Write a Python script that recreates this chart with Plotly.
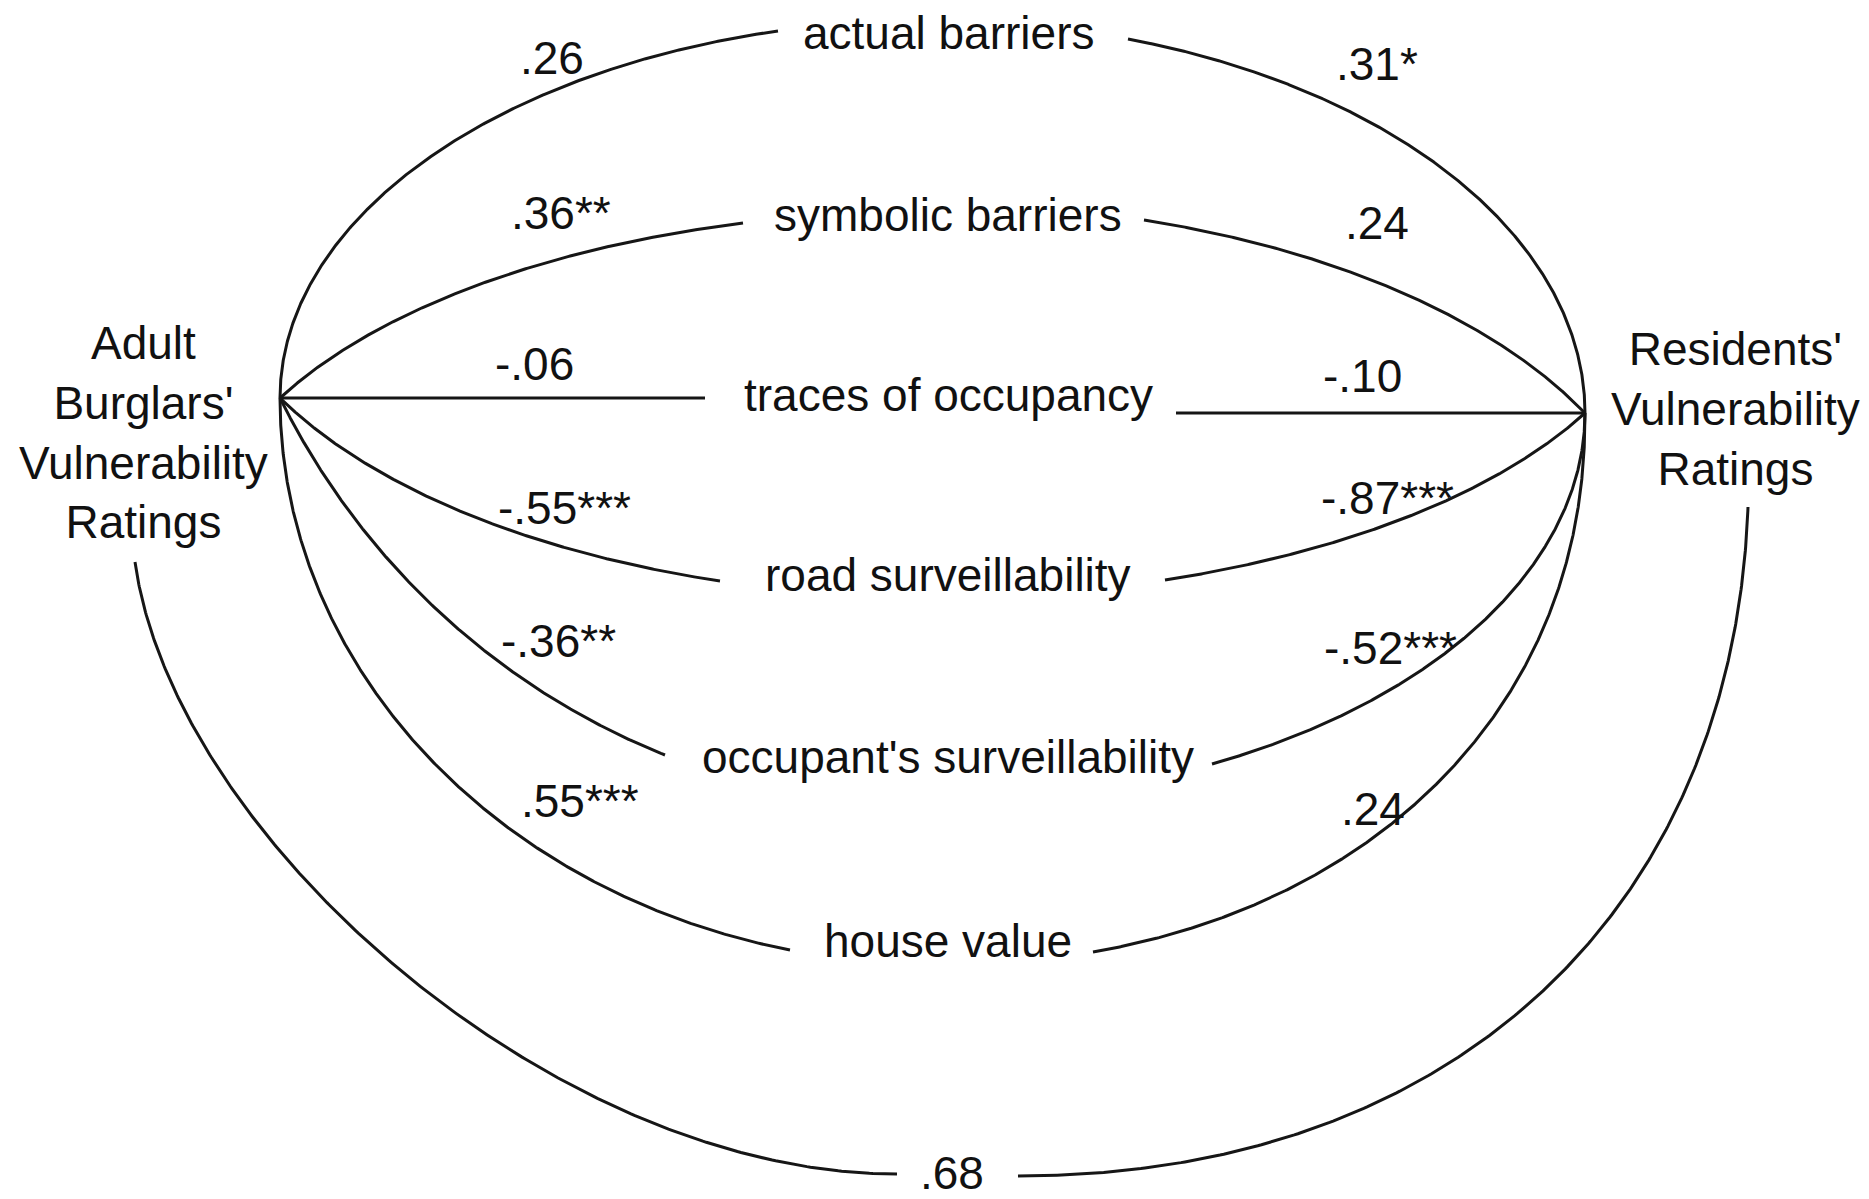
import numpy as np
import plotly.graph_objects as go

# ---------------- data ----------------
mediators = ["actual barriers", "symbolic barriers", "traces of occupancy",
             "road surveillability", "occupant's surveillability", "house value"]
burglar_r = [0.26, 0.36, -0.06, -0.55, -0.36, 0.55]
burglar_sig = ["", "**", "", "***", "**", "***"]
resident_r = [0.31, 0.24, -0.10, -0.87, -0.52, 0.24]
resident_sig = ["*", "", "", "***", "***", ""]
direct_r = 0.68
direct_sig = ""
left_node_label = "Adult<br>Burglars'<br>Vulnerability<br>Ratings"
right_node_label = "Residents'<br>Vulnerability<br>Ratings"

# ---------------- layout geometry (pixel space) ----------------
W, H = 1869, 1199
LX, LY = 280, 398          # burglars' node
RX, RY = 1585, 413         # residents' node
label_x = 948
label_y = [33, 215, 395, 575, 757, 941]
gap_left_x = [778, 743, 705, 720, 665, 790]
gap_left_y = [31, 223, 398, 581, 755, 950]
gap_right_x = [1128, 1144, 1176, 1165, 1212, 1093]
gap_right_y = [39, 220, 413, 580, 764, 952]
k_left = [1.0, 0.8, 0.8, 0.8, 0.8, 1.0]
k_right = [1.0, 0.8, 0.8, 0.8, 1.0, 1.0]
p_left = [2.0, 2.0, 2.0, 2.0, 2.0, 2.0]
p_right = [2.0, 2.0, 2.0, 2.0, 2.0, 2.15]

coef_left_pos = [(552, 58), (561, 213), (534, 364), (564, 508), (558, 641), (580, 801)]
coef_right_pos = [(1377, 64), (1377, 223), (1362, 376), (1387, 498), (1390, 648), (1373, 809)]
direct_pos = (952, 1173)
left_node_pos = (143, 432)
right_node_pos = (1735, 409)

# outer (direct) arc geometry
arc_left_start = (135, 562)
arc_left_end = (897, 1174)
arc_right_start = (1018, 1176)
arc_right_end = (1748, 507)

LINE = dict(color="#161616", width=3)
FONT = dict(family="Liberation Sans, Arial, sans-serif", size=46, color="#111111")


def fmt(v, s):
    t = f"{v:.2f}".replace("0.", ".", 1)
    return t + s


def fk(u, k, p=2.0):
    if k >= 0.999:
        return np.clip(1 - np.abs(u) ** p, 0, 1) ** (1.0 / p)
    c0 = np.sqrt(1 - k)
    return (np.sqrt(np.clip(1 - k * u ** 2, 0, 1)) - c0) / (1 - c0)


xm = (LX + RX) / 2
a = (RX - LX) / 2


def half_curve(x_end, y_end, base_y, k, p, side):
    # side -1 = left half, +1 = right half
    u_end = (x_end - xm) / a
    f_end = fk(np.array([u_end]), k, p)[0]
    dy = y_end - base_y
    if abs(dy) < 1e-6:
        xs = np.array([LX if side < 0 else RX, x_end])
        return xs, np.array([base_y, base_y])
    h = dy / f_end
    th_end = np.arccos(min(1, abs(u_end)))
    th = np.linspace(0, th_end, 500)
    u = side * np.cos(th)
    xs = xm + a * u
    ys = base_y + h * fk(u, k, p)
    return xs, ys


def bezier(p0, p1, p2, p3, n=300):
    t = np.linspace(0, 1, n)[:, None]
    P = ((1 - t) ** 3) * np.array(p0) + 3 * ((1 - t) ** 2) * t * np.array(p1) \
        + 3 * (1 - t) * t ** 2 * np.array(p2) + t ** 3 * np.array(p3)
    return P[:, 0], P[:, 1]


fig = go.Figure()

for i in range(len(mediators)):
    xs, ys = half_curve(gap_left_x[i], gap_left_y[i], LY, k_left[i], p_left[i], -1)
    fig.add_trace(go.Scatter(x=xs, y=ys, mode="lines", line=LINE,
                             hoverinfo="skip", showlegend=False))
    xs, ys = half_curve(gap_right_x[i], gap_right_y[i], RY, k_right[i], p_right[i], 1)
    fig.add_trace(go.Scatter(x=xs, y=ys, mode="lines", line=LINE,
                             hoverinfo="skip", showlegend=False))

# direct arc (two halves around the label)
p0 = arc_left_start
p3 = arc_left_end
dx, dy = p3[0] - p0[0], p3[1] - p0[1]
xs, ys = bezier(p0, (p0[0] + 0.05 * dx, p0[1] + 0.45 * dy), (p3[0] - 0.45 * dx, p3[1]), p3)
fig.add_trace(go.Scatter(x=xs, y=ys, mode="lines", line=LINE, hoverinfo="skip", showlegend=False))
p0 = arc_right_start
p3 = arc_right_end
dx, dy = p3[0] - p0[0], p0[1] - p3[1]
xs, ys = bezier(p0, (p0[0] + 0.6 * dx, p0[1]), (p3[0] - 0.02 * dx, p3[1] + 0.6 * dy), p3)
fig.add_trace(go.Scatter(x=xs, y=ys, mode="lines", line=LINE, hoverinfo="skip", showlegend=False))

ann = []
for i, m in enumerate(mediators):
    ann.append(dict(x=label_x, y=label_y[i], text=m))
    ann.append(dict(x=coef_left_pos[i][0], y=coef_left_pos[i][1], text=fmt(burglar_r[i], burglar_sig[i])))
    ann.append(dict(x=coef_right_pos[i][0], y=coef_right_pos[i][1], text=fmt(resident_r[i], resident_sig[i])))
ann.append(dict(x=direct_pos[0], y=direct_pos[1], text=fmt(direct_r, direct_sig)))
ann.append(dict(x=left_node_pos[0], y=left_node_pos[1], text=left_node_label))
ann.append(dict(x=right_node_pos[0], y=right_node_pos[1], text=right_node_label))
for d in ann:
    d.update(xref="x", yref="y", showarrow=False, xanchor="center", yanchor="middle",
             font=FONT, align="center")

fig.update_layout(
    width=W, height=H, margin=dict(l=0, r=0, t=0, b=0),
    paper_bgcolor="white", plot_bgcolor="white",
    xaxis=dict(range=[0, W], visible=False, fixedrange=True),
    yaxis=dict(range=[H, 0], visible=False, fixedrange=True),
    annotations=ann, showlegend=False,
)

fig.write_html("out.html", config={"displayModeBar": False},
               post_script="document.body.style.margin='0';document.body.style.overflow='hidden';")
